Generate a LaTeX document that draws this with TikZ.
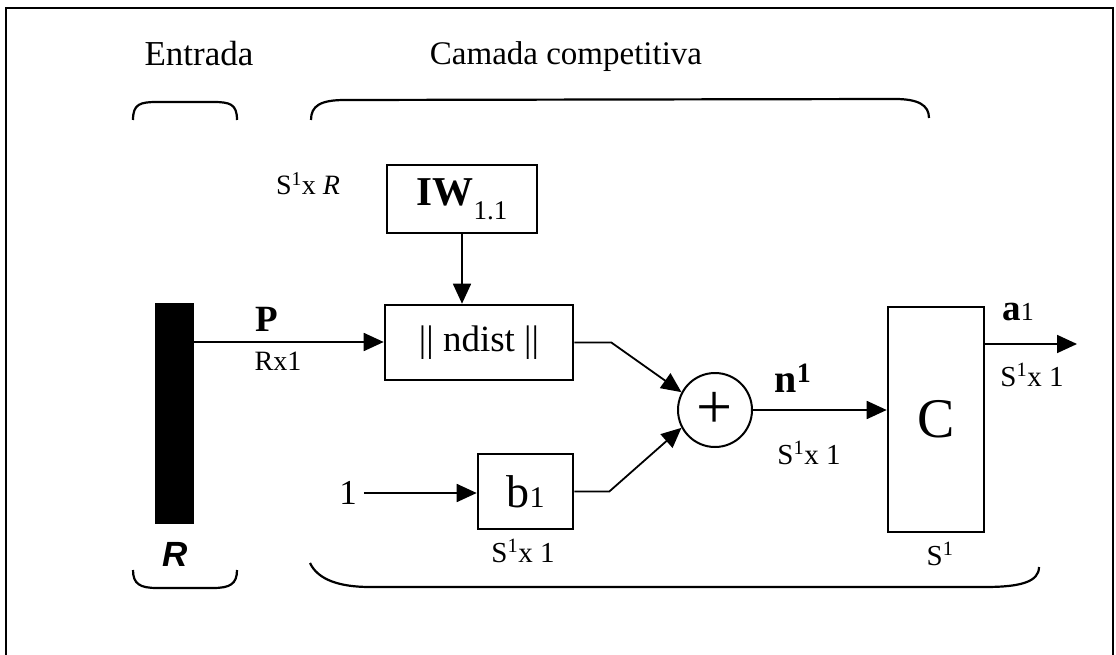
\documentclass[tikz,border=0pt]{standalone}
\usepackage{fontspec}
\setmainfont{Liberation Serif}
\newfontfamily\arialfont{Liberation Sans}
\usetikzlibrary{arrows.meta}

% font of a given size in pt
\newcommand\fsz[1]{\fontsize{#1}{#1}\selectfont}

\begin{document}
\begin{tikzpicture}[x=1pt,y=-1pt,
  box/.style={draw,line width=2.6pt,inner sep=0pt},
  wire/.style={line width=1.8pt},
  arr/.style={wire,-{Triangle[length=20pt,width=18pt]}},
  brace/.style={line width=2.2pt},
  lbl/.style={inner sep=0pt,anchor=base},
  dim/.style={lbl,font=\fsz{29}}]
\useasboundingbox (0,0) rectangle (1116,655);

% outer frame
\draw[line width=2pt] (6,655) -- (6,8) -- (1113,8) -- (1113,655);

% headings
\node[lbl,font=\fsz{35}] (hin) at (199,66) {Entrada};
\node[lbl,font=\fsz{33}] (hlay) at (566,65) {Camada competitiva};

% braces
\draw[brace] (133,120) .. controls (133,104) and (140,102) .. (157,102) -- (213,102)
  .. controls (230,102) and (237,104) .. (237,120);
\draw[brace] (311,120) .. controls (311,106) and (320,100) .. (345,100) -- (895,99)
  .. controls (918,99) and (929,105) .. (929,118);
\draw[brace] (133,570) .. controls (133,584) and (140,588) .. (157,588) -- (213,588)
  .. controls (230,588) and (237,584) .. (237,570);
\draw[brace] (310,563) .. controls (318,580) and (340,587) .. (370,587) -- (985,587)
  .. controls (1020,587) and (1039,582) .. (1039,567);

% input vector
\fill (155,303) rectangle (194,524);
\coordinate (bar) at (194,342);
\node[lbl,font=\arialfont\bfseries\itshape\fsz{35}] (rlab) at (175,566) {R};

% blocks
\node[box,minimum width=150pt,minimum height=68pt,font=\fsz{41}] (iw) at (462,199)
  {\textbf{IW}\raisebox{-0.35em}{\fsz{27}1.1}};
\node[box,minimum width=188pt,minimum height=75pt,font=\fsz{37}] (nd) at (479,342.5)
  {|| ndist ||};
\node[box,minimum width=95pt,minimum height=75pt,font=\fsz{46}] (b) at (525.5,491.5)
  {b{\fsz{30}1}};
\node[draw,circle,line width=2pt,minimum size=74pt,inner sep=0pt,font=\fsz{64}] (sum) at (715,410) {\raisebox{-0.06em}{+}};
\node[box,minimum width=96pt,minimum height=225pt,font=\fsz{56}] (c) at (936,419.5) {C};
\node[inner sep=7pt,font=\fsz{35}] (one) at (348,493) {1};
\coordinate (out) at (1077,344);

% labels
\node[lbl,font=\fsz{28}] (iwdim) at (308,195) {S\textsuperscript{1}x \textit{R}};
\node[lbl,font=\fsz{37}] (plab) at (267,331) {\textbf{P}};
\node[lbl,font=\fsz{28}] (pdim) at (278,370) {Rx1};
\node[dim] (bdim) at (523,562) {S\textsuperscript{1}x 1};
\node[lbl,font=\fsz{40}] (nlab) at (793,392) {\textbf{n\textsuperscript{1}}};
\node[dim] (ndim) at (809,464) {S\textsuperscript{1}x 1};
\node[lbl,font=\fsz{37}] (alab) at (1018,320) {\textbf{a}{\fsz{26}1}};
\node[dim] (adim) at (1032,386) {S\textsuperscript{1}x 1};
\node[dim] (cdim) at (940,565) {S\textsuperscript{1}};

% connectors
\draw[arr] (bar) -- (bar -| nd.west);
\draw[arr] (iw.south) -- (iw.south |- nd.north);
\draw[arr] (nd.east) -- ++(37,0) -- (sum.152);
\draw[arr] (one.east) -- (b.west |- one.east);
\draw[arr] (b.east) -- ++(35,0) -- (sum.208);
\draw[arr] (sum.east) -- (sum.east -| c.west);
\draw[arr] (c.east |- out) -- (out);
\end{tikzpicture}
\end{document}
